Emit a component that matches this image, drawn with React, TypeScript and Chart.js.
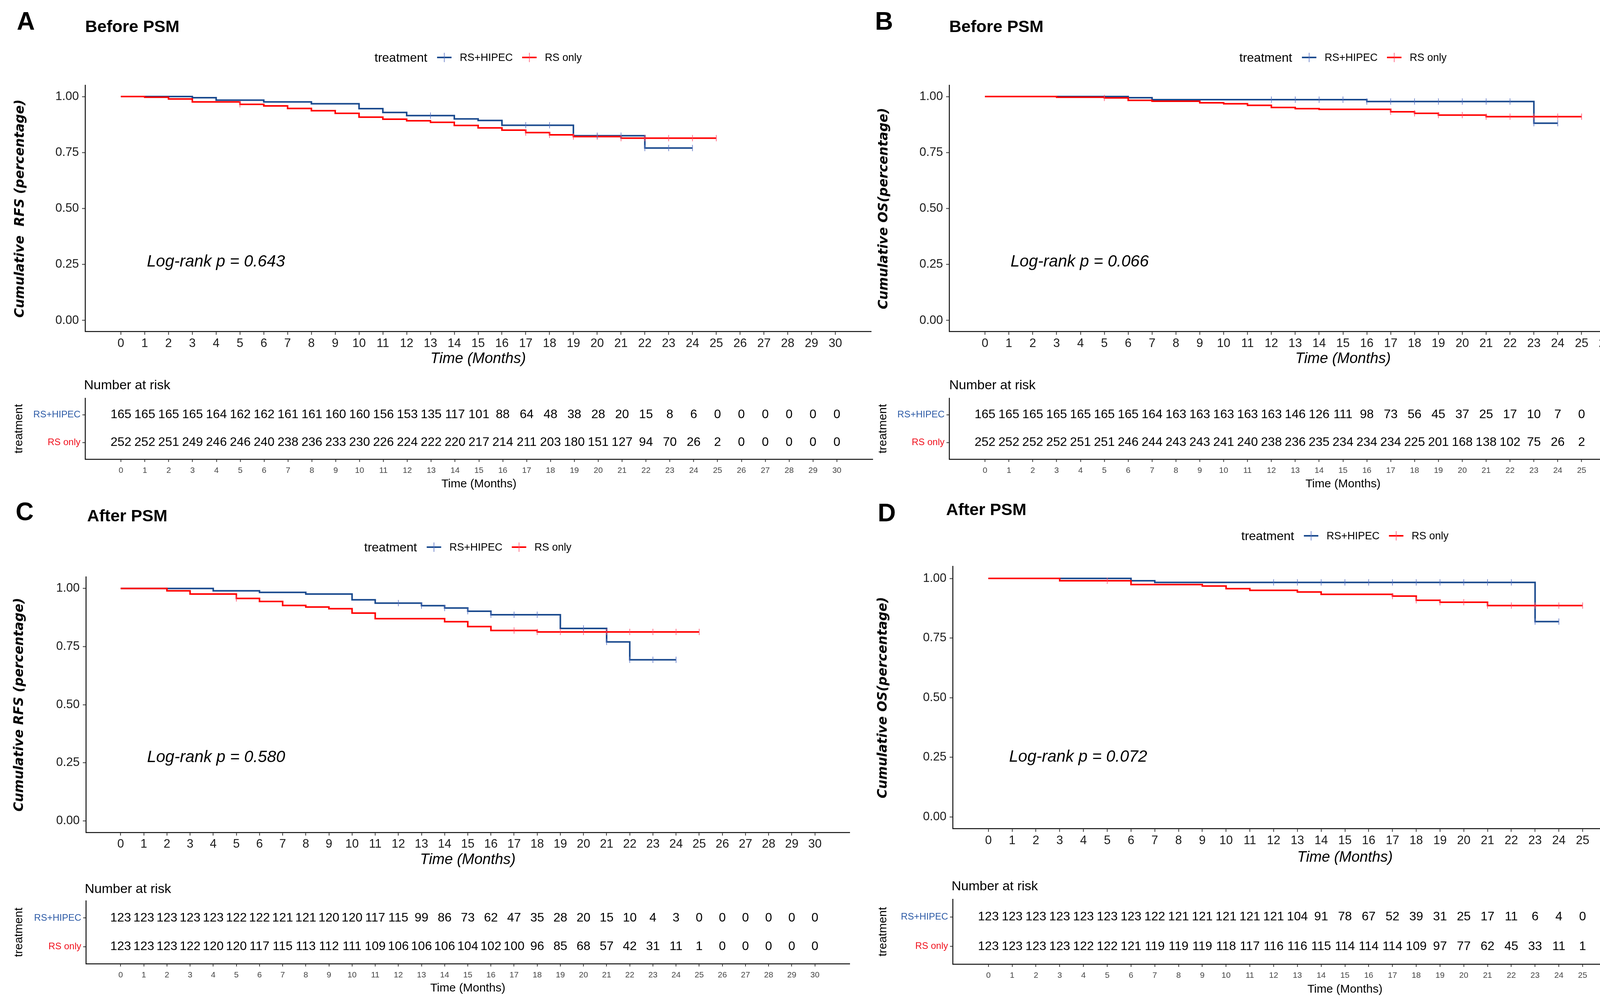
import React, { useEffect, useRef } from 'react';
import { Chart, registerables } from 'chart.js';

Chart.register(...registerables);

// ---------------- data ----------------
const months = [0, 1, 2, 3, 4, 5, 6, 7, 8, 9, 10, 11, 12, 13, 14, 15, 16, 17, 18, 19, 20, 21, 22, 23, 24, 25, 26, 27, 28, 29, 30];
const yTicks = [0, 0.25, 0.5, 0.75, 1];
const groups = ['RS+HIPEC', 'RS only'];

// survival value held on [month, month+1), index = month
const aSurvHipec = [1, 1, 1, 0.995, 0.984, 0.984, 0.976, 0.976, 0.968, 0.968, 0.946, 0.929, 0.915, 0.915, 0.9, 0.893, 0.872, 0.872, 0.872, 0.825, 0.825, 0.825, 0.77, 0.77, 0.77];
const aSurvOnly = [1, 0.997, 0.989, 0.976, 0.976, 0.965, 0.958, 0.947, 0.937, 0.925, 0.908, 0.899, 0.892, 0.885, 0.871, 0.86, 0.85, 0.839, 0.829, 0.821, 0.821, 0.814, 0.814, 0.814, 0.814, 0.814];
const aCensHipec = [13, 17, 18, 20, 21, 22, 23, 24];
const aCensOnly = [5, 17, 18, 19, 20, 21, 22, 23, 24, 25];
const aRiskHipec = [165, 165, 165, 165, 164, 162, 162, 161, 161, 160, 160, 156, 153, 135, 117, 101, 88, 64, 48, 38, 28, 20, 15, 8, 6, 0, 0, 0, 0, 0, 0];
const aRiskOnly = [252, 252, 251, 249, 246, 246, 240, 238, 236, 233, 230, 226, 224, 222, 220, 217, 214, 211, 203, 180, 151, 127, 94, 70, 26, 2, 0, 0, 0, 0, 0];

const bSurvHipec = [1, 1, 1, 1, 1, 1, 0.995, 0.986, 0.986, 0.986, 0.986, 0.986, 0.986, 0.986, 0.986, 0.986, 0.978, 0.978, 0.978, 0.978, 0.978, 0.978, 0.978, 0.881, 0.881];
const bSurvOnly = [1, 1, 1, 0.997, 0.997, 0.994, 0.983, 0.979, 0.979, 0.972, 0.968, 0.961, 0.951, 0.946, 0.943, 0.943, 0.943, 0.932, 0.925, 0.917, 0.917, 0.91, 0.91, 0.91, 0.91, 0.91];
const bCensHipec = [12, 13, 14, 15, 16, 17, 18, 19, 20, 21, 22, 23, 24];
const bCensOnly = [5, 17, 18, 19, 20, 21, 22, 23, 24, 25];
const bRiskHipec = [165, 165, 165, 165, 165, 165, 165, 164, 163, 163, 163, 163, 163, 146, 126, 111, 98, 73, 56, 45, 37, 25, 17, 10, 7, 0, 0, 0, 0, 0, 0];
const bRiskOnly = [252, 252, 252, 252, 251, 251, 246, 244, 243, 243, 241, 240, 238, 236, 235, 234, 234, 234, 225, 201, 168, 138, 102, 75, 26, 2, 0, 0, 0, 0, 0];

const cSurvHipec = [1, 1, 1, 1, 0.99, 0.99, 0.983, 0.983, 0.976, 0.976, 0.951, 0.937, 0.937, 0.926, 0.916, 0.902, 0.887, 0.887, 0.887, 0.828, 0.828, 0.77, 0.693, 0.693, 0.693];
const cSurvOnly = [1, 1, 0.99, 0.976, 0.976, 0.957, 0.944, 0.927, 0.92, 0.913, 0.894, 0.87, 0.87, 0.87, 0.857, 0.836, 0.819, 0.819, 0.813, 0.813, 0.813, 0.813, 0.813, 0.813, 0.813, 0.813];
const cCensHipec = [12, 13, 14, 15, 16, 17, 18, 20, 21, 22, 23, 24];
const cCensOnly = [5, 17, 18, 19, 20, 21, 22, 23, 24, 25];
const cRiskHipec = [123, 123, 123, 123, 123, 122, 122, 121, 121, 120, 120, 117, 115, 99, 86, 73, 62, 47, 35, 28, 20, 15, 10, 4, 3, 0, 0, 0, 0, 0, 0];
const cRiskOnly = [123, 123, 123, 122, 120, 120, 117, 115, 113, 112, 111, 109, 106, 106, 106, 104, 102, 100, 96, 85, 68, 57, 42, 31, 11, 1, 0, 0, 0, 0, 0];

const dSurvHipec = [1, 1, 1, 1, 1, 1, 0.99, 0.983, 0.983, 0.983, 0.983, 0.983, 0.983, 0.983, 0.983, 0.983, 0.983, 0.983, 0.983, 0.983, 0.983, 0.983, 0.983, 0.819, 0.819];
const dSurvOnly = [1, 1, 1, 0.99, 0.99, 0.99, 0.974, 0.974, 0.974, 0.968, 0.957, 0.95, 0.95, 0.943, 0.933, 0.933, 0.933, 0.926, 0.908, 0.9, 0.9, 0.886, 0.886, 0.886, 0.886, 0.886];
const dCensHipec = [12, 13, 14, 15, 16, 17, 18, 19, 20, 21, 22, 23, 24];
const dCensOnly = [5, 17, 18, 19, 20, 21, 22, 23, 24, 25];
const dRiskHipec = [123, 123, 123, 123, 123, 123, 123, 122, 121, 121, 121, 121, 121, 104, 91, 78, 67, 52, 39, 31, 25, 17, 11, 6, 4, 0, 0, 0, 0, 0, 0];
const dRiskOnly = [123, 123, 123, 123, 122, 122, 121, 119, 119, 119, 118, 117, 116, 116, 115, 114, 114, 114, 109, 97, 77, 62, 45, 33, 11, 1, 0, 0, 0, 0, 0];

// ---------------- style ----------------
const FONT = "'Liberation Sans', Arial, sans-serif";
const TITLE_FONT = "'DejaVu Sans', Verdana, sans-serif";
const BLUE = '#1A4A8E';
const RED = '#FF0000';
const BLUE_CENS = 'rgba(90,115,195,0.8)';
const RED_CENS = 'rgba(255,80,110,0.8)';
const BLUE_LABEL = '#2C5AA6';
const RED_LABEL = '#F0101C';

type Box = { cx: number; cy: number; cw: number; ch: number; left: number; right: number; top: number; bottom: number };
type Panel = {
  letter: string; title: string; ylabel: string; pText: string;
  hipec: number[]; only: number[]; censHipec: number[]; censOnly: number[]; riskHipec: number[]; riskOnly: number[];
  km: Box; tbl: Box;
  letterPos: [number, number]; titlePos: [number, number]; legendY: number; yTitleX: number; xTitleY: number; pPos: [number, number];
  narPos: [number, number]; treatX: number; tTimeY: number;
};

const PANELS: Panel[] = [
  {
    letter: 'A', title: 'Before PSM', ylabel: 'Cumulative  RFS (percentage)', pText: 'Log-rank p = 0.643',
    hipec: aSurvHipec, only: aSurvOnly, censHipec: aCensHipec, censOnly: aCensOnly, riskHipec: aRiskHipec, riskOnly: aRiskOnly,
    km: { cx: 0, cy: 0, cw: 2240, ch: 950, left: 218, right: 2234, top: 218.4, bottom: 848.6 },
    tbl: { cx: 0, cy: 950, cw: 2240, ch: 320, left: 218, right: 2234, top: 1019, bottom: 1175 },
    letterPos: [43, 76], titlePos: [218, 82], legendY: 149, yTitleX: 52, xTitleY: 918, pPos: [1.09, 0.262],
    narPos: [215, 987], treatX: 49, tTimeY: 1239,
  },
  {
    letter: 'B', title: 'Before PSM', ylabel: 'Cumulative OS(percentage)', pText: 'Log-rank p = 0.066',
    hipec: bSurvHipec, only: bSurvOnly, censHipec: bCensHipec, censOnly: bCensOnly, riskHipec: bRiskHipec, riskOnly: bRiskOnly,
    km: { cx: 2240, cy: 0, cw: 2231, ch: 950, left: 2430, right: 4446, top: 218.4, bottom: 848.6 },
    tbl: { cx: 2240, cy: 950, cw: 2231, ch: 320, left: 2430, right: 4446, top: 1019, bottom: 1175 },
    letterPos: [2240, 76], titlePos: [2430, 82], legendY: 149, yTitleX: 2263, xTitleY: 918, pPos: [1.07, 0.262],
    narPos: [2430, 987], treatX: 2261, tTimeY: 1239,
  },
  {
    letter: 'C', title: 'After PSM', ylabel: 'Cumulative RFS (percentage)', pText: 'Log-rank p = 0.580',
    hipec: cSurvHipec, only: cSurvOnly, censHipec: cCensHipec, censOnly: cCensOnly, riskHipec: cRiskHipec, riskOnly: cRiskOnly,
    km: { cx: 0, cy: 1270, cw: 2240, ch: 950, left: 220, right: 2175, top: 1476, bottom: 2130 },
    tbl: { cx: 0, cy: 2220, cw: 2240, ch: 349, left: 220, right: 2175, top: 2305, bottom: 2466 },
    letterPos: [40, 1331], titlePos: [223, 1334], legendY: 1402, yTitleX: 50, xTitleY: 2200, pPos: [1.14, 0.272],
    narPos: [217, 2276], treatX: 49, tTimeY: 2529,
  },
  {
    letter: 'D', title: 'After PSM', ylabel: 'Cumulative OS(percentage)', pText: 'Log-rank p = 0.072',
    hipec: dSurvHipec, only: dSurvOnly, censHipec: dCensHipec, censOnly: dCensOnly, riskHipec: dRiskHipec, riskOnly: dRiskOnly,
    km: { cx: 2240, cy: 1270, cw: 2231, ch: 950, left: 2439, right: 4447, top: 1449.5, bottom: 2120.5 },
    tbl: { cx: 2240, cy: 2220, cw: 2231, ch: 349, left: 2439, right: 4447, top: 2301, bottom: 2467 },
    letterPos: [2247, 1334], titlePos: [2422, 1318], legendY: 1373, yTitleX: 2261, xTitleY: 2194, pPos: [0.87, 0.25],
    narPos: [2436, 2269], treatX: 2261, tTimeY: 2532,
  },
];

// ---------------- helpers ----------------
const steps = (s: number[]) => s.map((v, i) => ({ x: months[i], y: v }));
const cens = (times: number[], s: number[]) => times.map((t) => ({ x: t, y: s[t] }));

function drawLegend(ctx: CanvasRenderingContext2D, cx: number, cy: number) {
  ctx.font = `32px ${FONT}`;
  const wT = ctx.measureText('treatment').width;
  ctx.font = `27px ${FONT}`;
  const w1 = ctx.measureText(groups[0]).width;
  const w2 = ctx.measureText(groups[1]).width;
  const glyph = 37, g1 = 25, g2 = 21, g3 = 24;
  const total = wT + g1 + glyph + g2 + w1 + g3 + glyph + g2 + w2;
  let x = cx - total / 2;
  ctx.textAlign = 'left';
  ctx.textBaseline = 'middle';
  ctx.fillStyle = '#000';
  ctx.font = `32px ${FONT}`;
  ctx.fillText('treatment', x, cy);
  x += wT + g1;
  const glyphAt = (gx: number, col: string, light: string) => {
    ctx.strokeStyle = col;
    ctx.lineWidth = 4;
    ctx.beginPath();
    ctx.moveTo(gx, cy - 2);
    ctx.lineTo(gx + glyph, cy - 2);
    ctx.stroke();
    ctx.strokeStyle = light;
    ctx.lineWidth = 2;
    ctx.beginPath();
    ctx.moveTo(gx + glyph / 2, cy - 14);
    ctx.lineTo(gx + glyph / 2, cy + 10);
    ctx.stroke();
  };
  glyphAt(x, BLUE, BLUE_CENS);
  x += glyph + g2;
  ctx.font = `27px ${FONT}`;
  ctx.fillStyle = '#000';
  ctx.fillText(groups[0], x, cy);
  x += w1 + g3;
  glyphAt(x, RED, RED_CENS);
  x += glyph + g2;
  ctx.fillStyle = '#000';
  ctx.fillText(groups[1], x, cy);
}

const gridOpts = (len: number) => ({ drawOnChartArea: false, drawTicks: true, tickLength: len, tickWidth: 2, tickColor: '#333' });
const borderOpts = { display: true, color: '#111', width: 2.5 };

function makeKm(canvas: HTMLCanvasElement, P: Panel) {
  const g = P.km;
  const Wy = 130, Hx = 60;
  const plugin = {
    id: 'kmText' + P.letter,
    afterDraw(chart: any) {
      const ctx: CanvasRenderingContext2D = chart.ctx;
      const ca = chart.chartArea;
      const ox = g.cx, oy = g.cy;
      const midX = (ca.left + ca.right) / 2;
      ctx.save();
      ctx.fillStyle = '#000';
      ctx.textAlign = 'left';
      ctx.textBaseline = 'alphabetic';
      ctx.font = `bold 64px ${FONT}`;
      ctx.fillText(P.letter, P.letterPos[0] - ox, P.letterPos[1] - oy);
      ctx.font = `bold 43px ${FONT}`;
      ctx.fillText(P.title, P.titlePos[0] - ox, P.titlePos[1] - oy);
      drawLegend(ctx, midX, P.legendY - oy);
      ctx.save();
      ctx.translate(P.yTitleX - ox, (ca.top + ca.bottom) / 2);
      ctx.rotate(-Math.PI / 2);
      ctx.font = `italic bold 33px ${TITLE_FONT}`;
      ctx.textAlign = 'center';
      ctx.textBaseline = 'middle';
      ctx.fillStyle = '#000';
      ctx.fillText(P.ylabel, 0, 0);
      ctx.restore();
      ctx.fillStyle = '#000';
      ctx.font = `italic 38px ${FONT}`;
      ctx.textAlign = 'center';
      ctx.textBaseline = 'middle';
      ctx.fillText('Time (Months)', midX, P.xTitleY - oy);
      ctx.font = `italic 42px ${FONT}`;
      ctx.textAlign = 'left';
      ctx.fillText(P.pText, chart.scales.x.getPixelForValue(P.pPos[0]), chart.scales.y.getPixelForValue(P.pPos[1]));
      ctx.restore();
    },
  };
  return new Chart(canvas, {
    type: 'line',
    data: {
      datasets: [
        { label: groups[0], data: steps(P.hipec), borderColor: BLUE, borderWidth: 4, stepped: 'before', pointRadius: 0, fill: false, order: 2, borderCapStyle: 'butt' },
        { label: groups[1], data: steps(P.only), borderColor: RED, borderWidth: 4, stepped: 'before', pointRadius: 0, fill: false, order: 1, borderCapStyle: 'butt' },
        { label: 'censor ' + groups[0], data: cens(P.censHipec, P.hipec), showLine: false, pointStyle: 'line', pointRotation: 90, pointRadius: 8, pointBorderColor: BLUE_CENS, pointBackgroundColor: BLUE_CENS, pointBorderWidth: 2, order: 0 },
        { label: 'censor ' + groups[1], data: cens(P.censOnly, P.only), showLine: false, pointStyle: 'line', pointRotation: 90, pointRadius: 8, pointBorderColor: RED_CENS, pointBackgroundColor: RED_CENS, pointBorderWidth: 2, order: 0 },
      ],
    } as any,
    options: {
      responsive: false,
      animation: false,
      devicePixelRatio: 1,
      events: [],
      layout: { padding: { left: g.left - g.cx - Wy, right: g.cx + g.cw - g.right, top: g.top - g.cy, bottom: g.cy + g.ch - g.bottom - Hx } },
      plugins: { legend: { display: false }, tooltip: { enabled: false }, title: { display: false } },
      scales: {
        x: {
          type: 'linear', min: -1.5, max: 31.5,
          afterBuildTicks: (s: any) => { s.ticks = months.map((v) => ({ value: v })); },
          afterFit: (s: any) => { s.height = Hx; },
          ticks: { font: { family: FONT, size: 31 }, color: '#1a1a1a', padding: 4, maxRotation: 0, autoSkip: false, callback: (v: any) => String(v) },
          grid: gridOpts(8), border: borderOpts,
        },
        y: {
          type: 'linear', min: -0.05, max: 1.05,
          afterBuildTicks: (s: any) => { s.ticks = yTicks.map((v) => ({ value: v })); },
          afterFit: (s: any) => { s.width = Wy; },
          ticks: { font: { family: FONT, size: 31 }, color: '#1a1a1a', padding: 8, callback: (v: any) => Number(v).toFixed(2) },
          grid: gridOpts(8), border: borderOpts,
        },
      },
    } as any,
    plugins: [plugin],
  });
}

function makeTable(canvas: HTMLCanvasElement, P: Panel) {
  const g = P.tbl;
  const Wy = 180, Hx = 45;
  const plugin = {
    id: 'tblText' + P.letter,
    afterDraw(chart: any) {
      const ctx: CanvasRenderingContext2D = chart.ctx;
      const ca = chart.chartArea;
      const ox = g.cx, oy = g.cy;
      const xs = chart.scales.x, ys = chart.scales.y;
      ctx.save();
      ctx.fillStyle = '#000';
      ctx.textAlign = 'center';
      ctx.textBaseline = 'middle';
      ctx.font = `32px ${FONT}`;
      months.forEach((m, i) => {
        ctx.fillText(String(P.riskHipec[i]), xs.getPixelForValue(m), ys.getPixelForValue(2));
        ctx.fillText(String(P.riskOnly[i]), xs.getPixelForValue(m), ys.getPixelForValue(1));
      });
      ctx.textAlign = 'left';
      ctx.font = `34px ${FONT}`;
      ctx.fillText('Number at risk', P.narPos[0] - ox, P.narPos[1] - oy);
      ctx.textAlign = 'center';
      ctx.font = `30px ${FONT}`;
      ctx.fillText('Time (Months)', (ca.left + ca.right) / 2, P.tTimeY - oy);
      ctx.save();
      ctx.translate(P.treatX - ox, (ca.top + ca.bottom) / 2);
      ctx.rotate(-Math.PI / 2);
      ctx.font = `30px ${FONT}`;
      ctx.fillText('treatment', 0, 0);
      ctx.restore();
      ctx.restore();
    },
  };
  return new Chart(canvas, {
    type: 'scatter',
    data: { datasets: [{ data: [] }] },
    options: {
      responsive: false,
      animation: false,
      devicePixelRatio: 1,
      events: [],
      layout: { padding: { left: g.left - g.cx - Wy, right: g.cx + g.cw - g.right, top: g.top - g.cy, bottom: g.cy + g.ch - g.bottom - Hx } },
      plugins: { legend: { display: false }, tooltip: { enabled: false } },
      scales: {
        x: {
          type: 'linear', min: -1.5, max: 31.5,
          afterBuildTicks: (s: any) => { s.ticks = months.map((v) => ({ value: v })); },
          afterFit: (s: any) => { s.height = Hx; },
          ticks: { font: { family: FONT, size: 21 }, color: '#444', padding: 10, maxRotation: 0, autoSkip: false, callback: (v: any) => String(v) },
          grid: gridOpts(7), border: borderOpts,
        },
        y: {
          type: 'linear', min: 0.4, max: 2.6,
          afterBuildTicks: (s: any) => { s.ticks = [{ value: 1 }, { value: 2 }]; },
          afterFit: (s: any) => { s.width = Wy; },
          ticks: {
            font: { family: FONT, size: 24 }, padding: 5,
            color: (c: any) => (c.tick && c.tick.value === 2 ? BLUE_LABEL : RED_LABEL),
            callback: (v: any) => (Number(v) === 2 ? groups[0] : groups[1]),
          },
          grid: gridOpts(7), border: borderOpts,
        },
      },
    } as any,
    plugins: [plugin],
  });
}

export default function App() {
  const refs = useRef<(HTMLCanvasElement | null)[]>([]);
  useEffect(() => {
    const charts: Chart[] = [];
    PANELS.forEach((P, i) => {
      const k = refs.current[2 * i];
      const t = refs.current[2 * i + 1];
      if (k) charts.push(makeKm(k, P));
      if (t) charts.push(makeTable(t, P));
    });
    return () => charts.forEach((c) => c.destroy());
  }, []);
  return (
    <div style={{ position: 'absolute', left: 0, top: 0, width: 4471, height: 2569, background: '#fff', overflow: 'hidden' }}>
      {PANELS.map((P, i) => (
        <React.Fragment key={P.letter}>
          <canvas
            ref={(el) => { refs.current[2 * i] = el; }}
            width={P.km.cw}
            height={P.km.ch}
            style={{ position: 'absolute', left: P.km.cx, top: P.km.cy, width: P.km.cw, height: P.km.ch }}
          />
          <canvas
            ref={(el) => { refs.current[2 * i + 1] = el; }}
            width={P.tbl.cw}
            height={P.tbl.ch}
            style={{ position: 'absolute', left: P.tbl.cx, top: P.tbl.cy, width: P.tbl.cw, height: P.tbl.ch }}
          />
        </React.Fragment>
      ))}
    </div>
  );
}
